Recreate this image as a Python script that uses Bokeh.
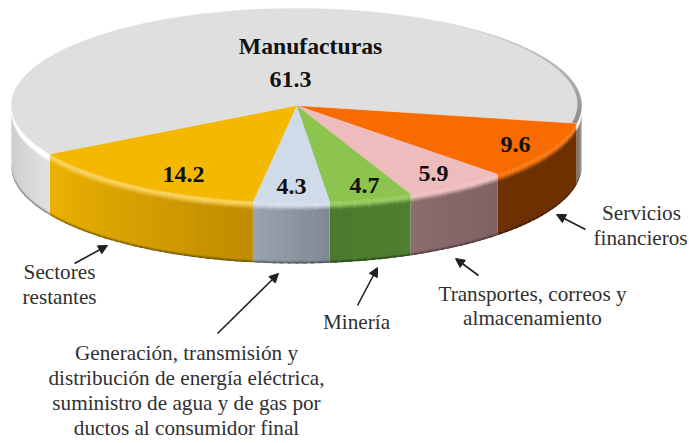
import numpy as np
from bokeh.plotting import figure
from bokeh.models import Range1d, Arrow, NormalHead
from bokeh.core.properties import value
from bokeh.embed import file_html
from bokeh.resources import INLINE

# ---- data -------------------------------------------------------------
sectors = ["Servicios financieros", "Transportes, correos y almacenamiento", "Minería",
           "Generación, transmisión y distribución", "Sectores restantes", "Manufacturas"]
shares = [9.6, 5.9, 4.7, 4.3, 14.2, 61.3]
share_labels = ["9.6", "5.9", "4.7", "4.3", "14.2", "61.3"]

# ---- style ------------------------------------------------------------
top_colors = ["#f76b00", "#eebcbc", "#8cc44f", "#cfdbe8", "#f5b800", "#dfdfdf"]
side_start = ["#6e3000", "#7f6264", "#4f7f30", "#7f8994", "#c08c00", "#e0e0e0"]
side_end   = ["#6e3000", "#8c6c6e", "#4c7a2c", "#9aa4ae", "#ecb200", "#c8c8c8"]
rim_light  = [0.10, 0.10, 0.12, 0.15, 0.35, 1.0]

W, H = 689, 443
cx, cy, a, b, depth = 296.0, 105.0, 285.0, 97.0, 61.0
t0 = 10.6
rim_h = 8.0

def rgb(h):
    return np.array([int(h[i:i+2], 16) for i in (1, 3, 5)], float)
def hexc(c):
    c = np.clip(np.round(c), 0, 255).astype(int)
    return "#%02x%02x%02x" % tuple(c)
def px(t):
    return cx + a*np.cos(np.radians(t))
def py(t, v=0.0):
    return cy + b*np.sin(np.radians(t)) + v

p = figure(width=W, height=H, x_range=Range1d(0, W), y_range=Range1d(H, 0),
           output_backend="svg", toolbar_location=None, min_border=0,
           background_fill_color="white", border_fill_color="white", outline_line_color=None)
p.axis.visible = False
p.grid.visible = False

# angular extents from the shares
angles = np.array(shares)/sum(shares)*360
starts = t0 + np.concatenate([[0], np.cumsum(angles)[:-1]])
ends = starts + angles

# side walls, split in small quads for the gradients
xs, ys, cols = [], [], []
v_layers = [0, 1, 2, 3, 4, 5, 6, 7, 8, depth-3, depth-2, depth-1, depth]
for i in range(len(shares)):
    s, e = starts[i], ends[i]
    ranges = [(s, e)]
    if e > 360:  # slice wraps round the back
        ranges = [(s, 180), (360, e)]
    for (r0, r1) in ranges:
        n = max(2, int((r1-r0)/1.5))
        edges = np.linspace(r0, r1, n+1)
        for j in range(n):
            t1, t2 = edges[j], edges[j+1]
            f = ((t1+t2)/2 - r0)/(r1-r0)
            base = rgb(side_start[i])*(1-f) + rgb(side_end[i])*f
            if r0 >= 360:
                base = rgb("#9c9c9c")*(1-f) + rgb("#707070")*f
            top = rgb(top_colors[i])
            t2x = min(t2 + 0.7, r1)
            for k in range(len(v_layers)-1):
                v1, v2 = v_layers[k], v_layers[k+1]
                m = (v1+v2)/2
                if m < 3:
                    c = top*(1-rim_light[i]) + 255*rim_light[i]
                elif m < rim_h:
                    w = (m-3)/(rim_h-3)
                    c = (top*(1-rim_light[i]) + 255*rim_light[i])*(1-w) + base*w
                    if i == 5:
                        c = np.array([255., 255., 255.])*(1-w**4) + base*w**4
                elif m < depth-3:
                    c = base
                else:
                    c = base*(1 - 0.16*(m-(depth-3)))
                v2x = v2 + 0.5 if k < len(v_layers)-2 else v2
                xs.append([px(t1), px(t2x), px(t2x), px(t1)])
                ys.append([py(t1, v1), py(t2x, v1), py(t2x, v2x), py(t1, v2x)])
                cols.append(hexc(c))
p.patches(xs, ys, fill_color=cols, line_color=None)

# top face
wx, wy, wc = [], [], []
for i in range(len(shares)):
    ts = np.linspace(starts[i], ends[i], max(3, int(angles[i])))
    wx.append([cx] + list(px(ts)))
    wy.append([cy] + list(py(ts)))
    wc.append(top_colors[i])
p.patches(wx, wy, fill_color=wc, line_color=wc, line_width=0.5)

# darker shading on the back right of the rim
ts = np.linspace(-60, t0, 36)
rx, ry, rc = [], [], []
for j in range(len(ts)-1):
    f = (j+0.5)/(len(ts)-1)
    w = 4.5*f
    x1, x2 = px(ts[j]), px(ts[j+1])
    rx.append([x1, x2, x2-w*np.cos(np.radians(ts[j+1])), x1-w*np.cos(np.radians(ts[j]))])
    y1, y2 = py(ts[j]), py(ts[j+1])
    ry.append([y1, y2, y2-w*np.sin(np.radians(ts[j+1])), y1-w*np.sin(np.radians(ts[j]))])
    rc.append(hexc(rgb("#dfdfdf")*(1-f) + rgb("#8a8a8a")*f))
p.patches(rx, ry, fill_color=rc, line_color=rc, line_width=0.3)

# value labels
serif = value("Liberation Serif")
p.text(x=[515, 433, 364, 291, 183, 290], y=[144, 173, 185, 186, 174, 79], text=share_labels,
       text_font=serif, text_font_style="bold", text_font_size="24px", text_color="#101010",
       text_align="center", text_baseline="middle")
p.text(x=[310], y=[45], text=[sectors[5]], text_font=serif, text_font_style="bold",
       text_font_size="23.7px", text_color="#101010", text_align="center", text_baseline="middle")

# category labels
lines = [("Sectores", 59, 271), ("restantes", 59, 296),
         ("Generación, transmisión y", 186, 352), ("distribución de energía eléctrica,", 186, 377),
         ("suministro de agua y de gas por", 186, 402), ("ductos al consumidor final", 186, 427),
         ("Minería", 356, 321),
         ("Transportes, correos y", 532, 293), ("almacenamiento", 532, 317),
         ("Servicios", 641, 212), ("financieros", 640, 237)]
p.text(x=[l[1] for l in lines], y=[l[2] for l in lines], text=[l[0] for l in lines],
       text_font=serif, text_font_size="21.2px", text_color="#303030",
       text_align="center", text_baseline="middle")

# arrows
for (x0, y0, x1, y1) in [(74, 263, 107, 245), (217, 333, 278, 273), (357, 305, 377, 267),
                         (478, 275, 455, 258), (585, 229, 556, 214)]:
    p.add_layout(Arrow(end=NormalHead(size=9, fill_color="#202020", line_color="#202020"),
                       x_start=x0, y_start=y0, x_end=x1, y_end=y1,
                       line_color="#202020", line_width=1.6))

open("out.html", "w").write(file_html(p, INLINE))
